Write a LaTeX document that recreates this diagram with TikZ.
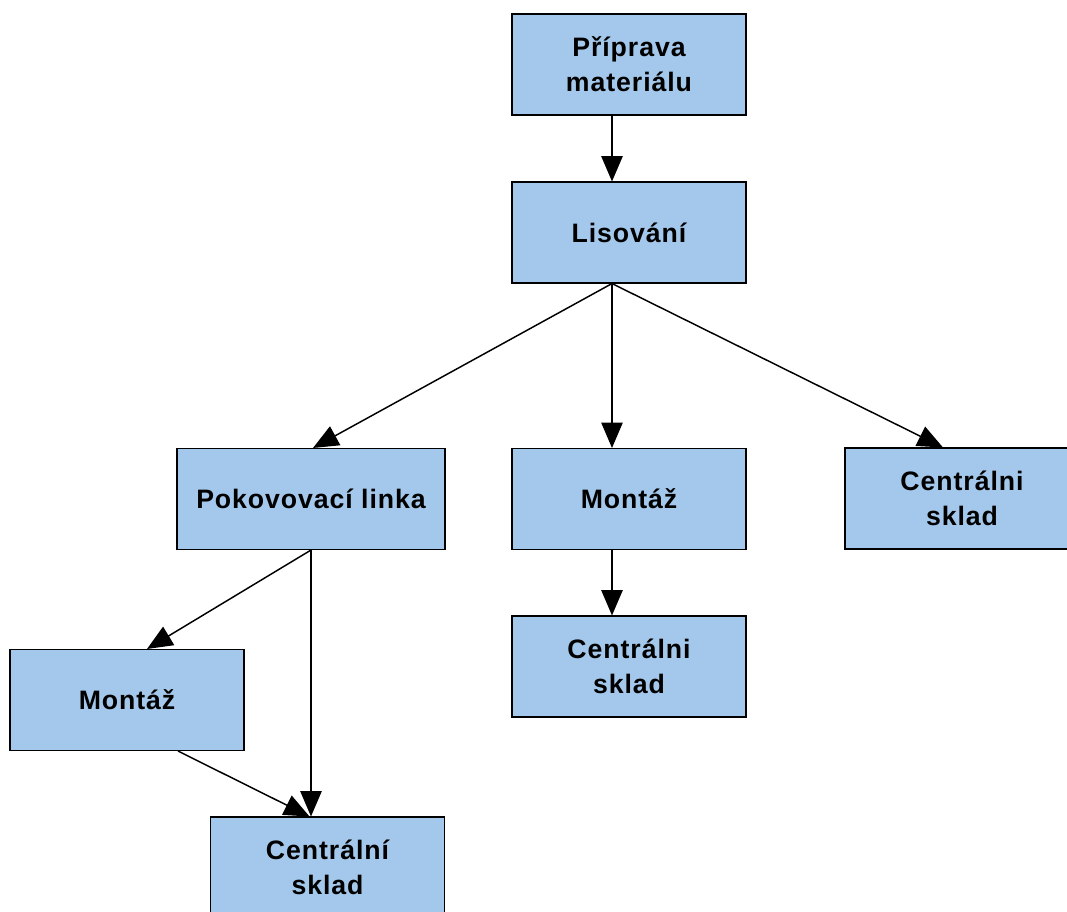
\documentclass[tikz,border=0pt]{standalone}
\usepackage{fontspec}
\setmainfont{Liberation Sans}
\newfontfamily\boxfont[LetterSpace=3.5]{Liberation Sans}
\usetikzlibrary{arrows.meta,calc}
\definecolor{boxfill}{HTML}{A4C8EB}
\begin{document}
\begin{tikzpicture}[x=0.75pt,y=-0.75pt,
  box/.style={draw=black, line width=0.8pt, fill=boxfill,
    minimum width=175.5pt, minimum height=75.75pt, inner sep=0pt,
    align=center, font=\boxfont\fontsize{20}{26}\selectfont\bfseries},
  flow/.style={line width=1.1pt, -{Triangle[length=19pt,width=16pt]}}]
\useasboundingbox (0,0) rectangle (1067,911);
\clip (0,0) rectangle (1067,911);

% process steps
\node[box] (prep) at (629,64.5)  {Příprava\\materiálu};
\node[box] (lis)  at (629,232.5) {Lisování};
\node[box, minimum width=201pt] (pok) at (311,499) {Pokovovací linka};
\node[box] (monm) at (629,499)   {Montáž};
\node[box] (skr)  at (962,498.5) {Centrálni\\sklad};
\node[box] (skm)  at (629,666.5) {Centrálni\\sklad};
\node[box] (monl) at (127,700)   {Montáž};
\node[box] (skb)  at (327.5,867.5) {Centrální\\sklad};

% connectors
\draw[flow] ($(prep.south)+(-17,0)$) -- ($(lis.north)+(-17,0)$);
\draw[flow] ($(lis.south)+(-17,0)$) -- ($(pok.north)+(2,0)$);
\draw[flow] ($(lis.south)+(-17,0)$) -- ($(monm.north)+(-17,0)$);
\draw[flow] ($(lis.south)+(-17,0)$) -- ($(skr.north)+(-19,0)$);
\draw[flow] ($(monm.south)+(-17,0)$) -- ($(skm.north)+(-17,0)$);
\draw[flow] (pok.south) -- ($(monl.north)+(20,0)$);
\draw[flow] (pok.south) -- ($(skb.north)+(-16.5,0)$);
\draw[flow] ($(monl.south)+(51,0)$) -- ($(skb.north)+(-18,0)$);
\end{tikzpicture}
\end{document}
